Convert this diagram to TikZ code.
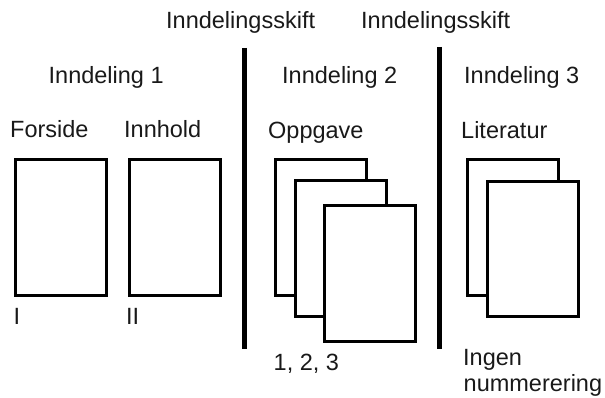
\documentclass[tikz,border=0pt]{standalone}
\usepackage{fontspec}
\setmainfont{Liberation Sans}
\tikzset{
  page/.style={draw=black, fill=white, line width=3pt, minimum width=91pt,
    minimum height=135pt, inner sep=0pt, anchor=north west},
  label/.style={anchor=base west, inner sep=0pt, text=black!90,
    font=\fontsize{23.5}{26}\selectfont},
  divider/.style={line width=5pt}
}
\begin{document}
\begin{tikzpicture}[x=1pt,y=-1pt]
\useasboundingbox (0,0) rectangle (605,398);

% section breaks
\node[label] (skift1) at (166,29) {Inndelingsskift};
\node[label] (skift2) at (361,29) {Inndelingsskift};
\coordinate (d1top) at (244,48);
\coordinate (d1bot) at (244,349);
\coordinate (d2top) at (439.5,47);
\coordinate (d2bot) at (439.5,349);
\draw[divider] (d1top) -- (d1bot);
\draw[divider] (d2top) -- (d2bot);

% section headings
\node[label] (sec1) at (48.5,84) {Inndeling 1};
\node[label] (sec2) at (282,84) {Inndeling 2};
\node[label] (sec3) at (464,84) {Inndeling 3};

% section 1: title page and contents
\node[label] (forside) at (10,138) {Forside};
\node[label] (innhold) at (124,138) {Innhold};
\node[page] (p1) at (13.5,158.5) {};
\node[page] (p2) at (127.5,158.5) {};
\node[label] (num1) at (13.5,324) {I};
\node[label] (num2) at (126,324) {II};

% section 2: main text, three pages
\node[label] (oppgave) at (268,139) {Oppgave};
\node[page] (o1) at (273.5,158.5) {};
\node[page] (o2) at (293.5,179.5) {};
\node[page] (o3) at (322.5,204.5) {};
\node[label] (num3) at (273.5,370) {1, 2, 3};

% section 3: references, two pages
\node[label] (litt) at (461,139) {Literatur};
\node[page] (l1) at (465.5,158.5) {};
\node[page] (l2) at (485.5,180) {};
\node[label] (ingen) at (463,365) {Ingen};
\node[label] (numm) at (463.5,391) {nummerering};
\end{tikzpicture}
\end{document}
